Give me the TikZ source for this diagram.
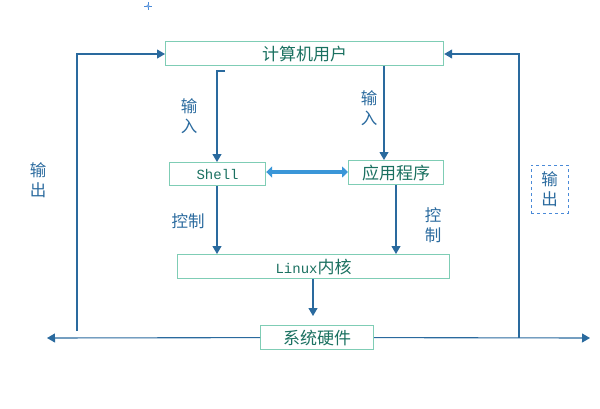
\documentclass[tikz,border=0pt]{standalone}
\usepackage{fontspec}
\setmainfont{Liberation Mono}
\newfontfamily\cjk{Noto Sans CJK SC}
\usetikzlibrary{arrows.meta}
\definecolor{boxc}{HTML}{7FCDB5}
\definecolor{txtc}{HTML}{1A7060}
\definecolor{linec}{HTML}{2A6A9E}
\definecolor{dblc}{HTML}{3A96D8}
\definecolor{dashc}{HTML}{4A8AD8}
\tikzset{
  box/.style={draw=boxc, line width=1.2pt, text=txtc, font=\cjk\fontsize{17}{19}\selectfont, inner sep=0pt, anchor=north west},
  conn/.style={draw=linec, line width=1.1pt, -{Triangle[length=8pt,width=9pt]}},
  lab/.style={text=linec, font=\cjk\fontsize{16.5}{20}\selectfont, align=center, inner sep=1pt},
}
\begin{document}
\begin{tikzpicture}[x=1pt,y=-1pt]
\useasboundingbox (0,0) rectangle (600,408);
% boxes
\node[box, minimum width=278pt, minimum height=24pt] (user) at (165,41) {计算机用户};
\node[box, minimum width=96pt, minimum height=23pt] (shell) at (169,162) {\fontspec{Liberation Mono}\fontsize{14}{16}\selectfont Shell};
\node[box, minimum width=95pt, minimum height=24pt] (app) at (348,160) {应用程序};
\node[box, minimum width=272pt, minimum height=24pt] (kern) at (177,254) {{\fontspec{Liberation Mono}\fontsize{14}{16}\selectfont Linux}内核};
\node[box, minimum width=113pt, minimum height=24pt] (hw) at (260,325) {系统硬件};
% coordinates
\coordinate (lt) at (225,71);
\coordinate (ltc) at (217,71);
\coordinate (lL) at (47,338);
\coordinate (lR) at (590,338);
\coordinate (lv) at (77,331);
\coordinate (lvt) at (77,54);
\coordinate (rv) at (519,338);
\coordinate (rvt) at (519,54);
\coordinate (apx) at (384,0);
\coordinate (shx) at (217,0);
\coordinate (akx) at (396,0);
\coordinate (khx) at (313,316);
\coordinate (dby) at (0,172);
% connectors
\draw[conn] (lt) -- (ltc) -- (ltc |- shell.north);
\draw[conn] (apx |- user.south) -- (apx |- app.north);
\draw[conn] (shx |- shell.south) -- (shx |- kern.north);
\draw[conn] (akx |- app.south) -- (akx |- kern.north);
\draw[conn] (khx |- kern.south) -- (khx);
\draw[draw=dblc, line width=4.5pt, {Triangle[length=6pt,width=11pt]}-{Triangle[length=6pt,width=11pt]}] (shell.east |- dby) -- (app.west |- dby);
\draw[conn] (hw.west) -- (lL);
\draw[conn] (hw.east) -- (lR);
\draw[conn] (lv) -- (lvt) -- (user.west |- lvt);
\draw[conn] (rv) -- (rvt) -- (user.east |- rvt);
% labels
\node[lab] (in1) at (189,116) {输\\入};
\node[lab] (in2) at (369,108) {输\\入};
\node[lab] (ctl1) at (188,221) {控制};
\node[lab] (ctl2) at (433,225) {控\\制};
\node[lab] (out1) at (38,180) {输\\出};
\node[lab, draw=dashc, dashed, line width=0.8pt, minimum width=37pt, minimum height=48pt] (out2) at (549.5,189) {输\\出};
% small crosshair mark
\draw[dashc, line width=0.8pt] (144,6) -- (152,6) (148,2) -- (148,10);
\draw[dashc, fill=white, line width=0.6pt] (148,6) circle (1.3pt);
\end{tikzpicture}
\end{document}
